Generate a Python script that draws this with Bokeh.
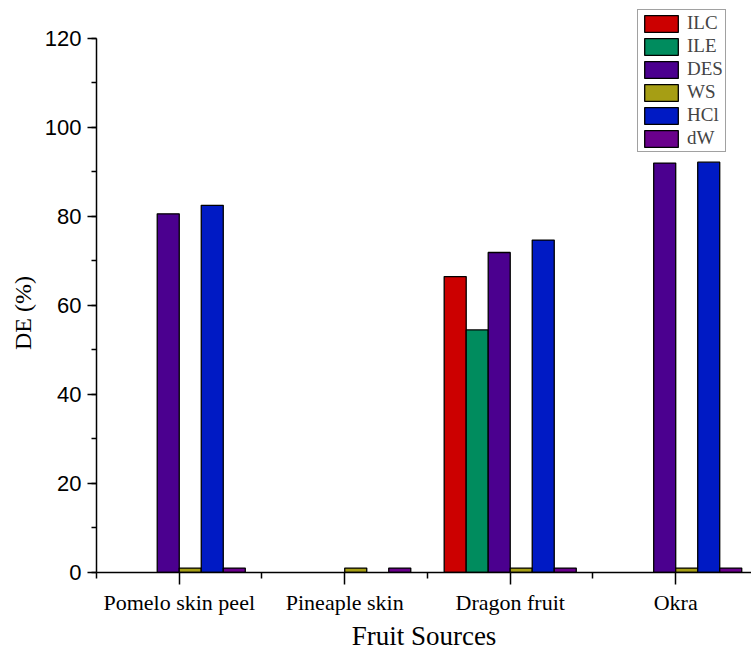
from bokeh.plotting import figure
from bokeh.models import (Range1d, FixedTicker, SingleIntervalTicker, Legend,
                          LegendItem, ColumnDataSource)
from bokeh.embed import file_html
from bokeh.resources import INLINE
import numpy as np

categories = ["Pomelo skin peel", "Pineaple skin", "Dragon fruit", "Okra"]
series = ["ILC", "ILE", "DES", "WS", "HCl", "dW"]
ilc = [0, 0, 66.5, 0]
ile = [0, 0, 54.5, 0]
des = [80.6, 0, 71.9, 92.0]
ws = [1.0, 1.0, 1.0, 1.0]
hcl = [82.5, 0, 74.7, 92.2]
dw = [1.0, 1.0, 1.0, 1.0]
values = [ilc, ile, des, ws, hcl, dw]
colors = ["#CC0000", "#008C5E", "#4B008F", "#A69E14", "#001AC4", "#6A008C"]

xpos = np.arange(1, len(categories) + 1)
bar_w = 0.133

p = figure(width=751, height=653, output_backend="svg", toolbar_location=None,
           x_range=Range1d(0.5, 4.458), y_range=Range1d(0, 127.4),
           min_border_left=96, min_border_right=0, min_border_top=5,
           min_border_bottom=81)
p.outline_line_color = None
p.xgrid.grid_line_color = None
p.ygrid.grid_line_color = None
p.background_fill_color = "white"

items = []
n = len(series)
for i, (name, vals, col) in enumerate(zip(series, values, colors)):
    off = (i - (n - 1) / 2) * bar_w
    xs = [x + off for x, v in zip(xpos, vals) if v > 0]
    tops = [v for v in vals if v > 0]
    src = ColumnDataSource(dict(x=xs, top=tops))
    r = p.vbar(x="x", top="top", width=bar_w, bottom=0, source=src,
               fill_color=col, line_color="black", line_width=1.3)
    items.append(LegendItem(label=name, renderers=[r]))

legend = Legend(items=items, location=(541, 420), orientation="vertical",
                glyph_width=42, glyph_height=21, label_height=21, spacing=1,
                padding=2, margin=0, label_standoff=5,
                label_text_font="Liberation Serif", label_text_font_size="19px",
                border_line_color="#444444", border_line_width=1,
                background_fill_color="white", background_fill_alpha=1)
p.add_layout(legend, "center")

# y axis
ya = p.yaxis[0]
ya.ticker = SingleIntervalTicker(interval=20, num_minor_ticks=2)
ya.bounds = (0, 120)
ya.axis_label = "DE (%)" + "\u00a0" * 8
ya.axis_label_text_font = "Liberation Serif"
ya.axis_label_text_font_size = "24px"
ya.axis_label_text_font_style = "normal"
ya.axis_label_text_color = "black"
ya.axis_label_standoff = 6
ya.major_label_text_font = "Liberation Sans"
ya.major_label_text_font_size = "22px"
ya.major_label_text_color = "black"
ya.major_label_standoff = 6
ya.major_tick_out = 9
ya.major_tick_in = 0
ya.minor_tick_out = 5
ya.minor_tick_in = 0
ya.axis_line_width = 1.5
ya.major_tick_line_width = 1.5
ya.minor_tick_line_width = 1.5
ya.axis_line_color = "black"
ya.major_tick_line_color = "black"
ya.minor_tick_line_color = "black"

# x axis
xa = p.xaxis[0]
xa.ticker = FixedTicker(ticks=list(xpos), minor_ticks=[0.5, 1.5, 2.5, 3.5])
xa.major_label_overrides = {int(x): c for x, c in zip(xpos, categories)}
xa.axis_label = "Fruit Sources"
xa.axis_label_text_font = "Liberation Serif"
xa.axis_label_text_font_size = "27px"
xa.axis_label_text_font_style = "normal"
xa.axis_label_text_color = "black"
xa.axis_label_standoff = 3
xa.major_label_text_font = "Liberation Serif"
xa.major_label_text_font_size = "22px"
xa.major_label_text_color = "black"
xa.major_label_standoff = 5
xa.major_tick_out = 12
xa.major_tick_in = 0
xa.minor_tick_out = 6
xa.minor_tick_in = 0
xa.axis_line_width = 1.5
xa.major_tick_line_width = 1.5
xa.minor_tick_line_width = 1.5
xa.axis_line_color = "black"
xa.major_tick_line_color = "black"
xa.minor_tick_line_color = "black"

open("out.html", "w").write(file_html(p, INLINE))
